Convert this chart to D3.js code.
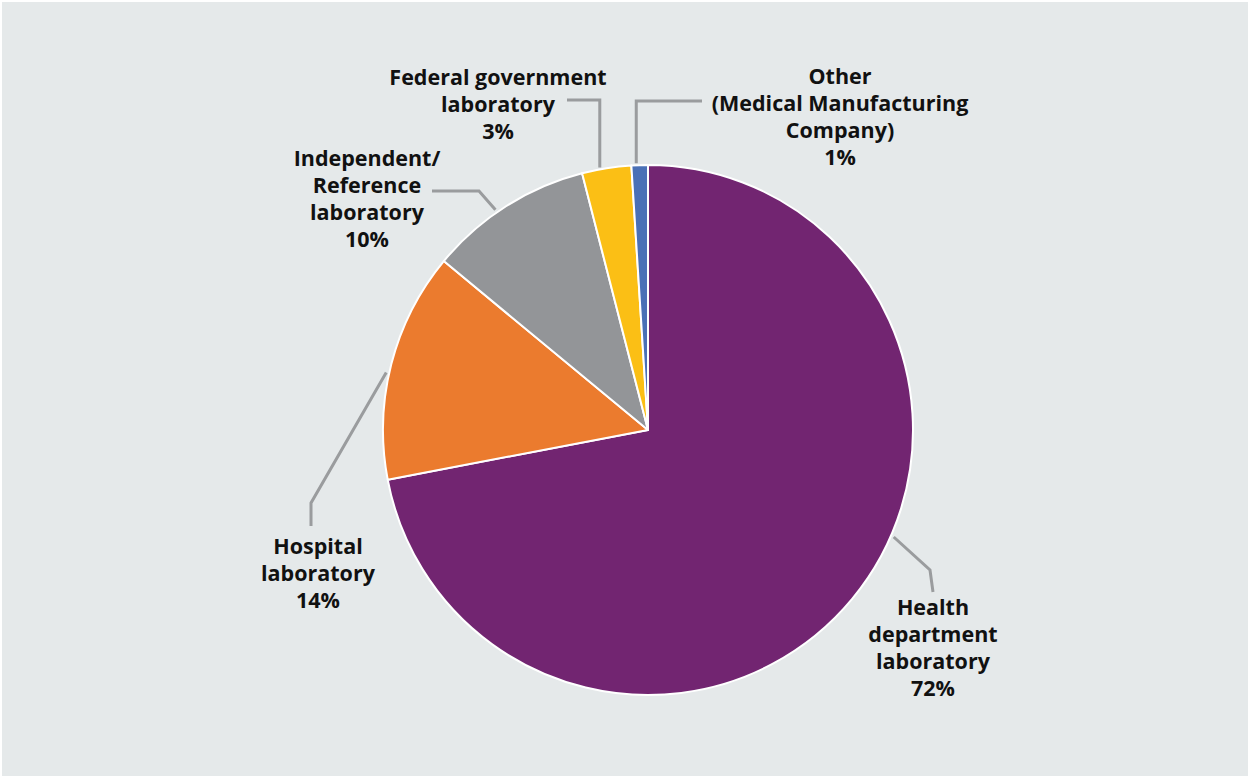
<!DOCTYPE html>
<html>
<head>
<meta charset="utf-8">
<script src="https://cdn.jsdelivr.net/npm/d3@7"></script>
<style>
  html, body { margin: 0; padding: 0; background: #ffffff; }
  svg { display: block; }
  .lbl { font-family: "Open Sans", "Noto Sans", sans-serif; font-weight: 700; font-size: 21.5px; fill: #111; }
</style>
</head>
<body>
<svg id="chart" width="1250" height="778"></svg>
<script>
// Share of tests by laboratory type
const categories = ["Health department laboratory", "Hospital laboratory", "Independent/Reference laboratory", "Federal government laboratory", "Other (Medical Manufacturing Company)"];
const values = [72, 14, 10, 3, 1];
const colors = ["#722571", "#eb7b2e", "#939598", "#fbbf15", "#4a70b6"];
const labelLines = [
  ["Health", "department", "laboratory", "72%"],
  ["Hospital", "laboratory", "14%"],
  ["Independent/", "Reference", "laboratory", "10%"],
  ["Federal government", "laboratory", "3%"],
  ["Other", "(Medical Manufacturing", "Company)", "1%"]
];

const W = 1250, H = 778;
const cx = 648, cy = 430, R = 265;

const svg = d3.select("#chart");
svg.append("rect").attr("x", 2).attr("y", 2).attr("width", W - 4).attr("height", H - 4).attr("fill", "#e5e9ea");

const pie = d3.pie().sort(null).value(d => d);
const arcs = pie(values);
const arc = d3.arc().innerRadius(0).outerRadius(R);

const g = svg.append("g").attr("transform", `translate(${cx},${cy})`);
g.selectAll("path.slice").data(arcs).join("path")
  .attr("class", "slice")
  .attr("d", arc)
  .attr("fill", (d, i) => colors[i])
  .attr("stroke", "#ffffff")
  .attr("stroke-width", 2)
  .attr("stroke-linejoin", "round");

// point on the rim at a given fraction of the slice's span
function rim(a, t, r) {
  const ang = a.startAngle + (a.endAngle - a.startAngle) * t;
  return [cx + r * Math.sin(ang), cy - r * Math.cos(ang)];
}

// leader line layout per slice: anchor fraction along slice, then elbow and end points
const leaders = [
  { t: 0.438, r: R + 3, pts: p => [p, [930, 570], [933, 592]] },
  { t: 0.46, r: R + 3, pts: p => [p, [311, 503], [311, 526]] },
  { t: 0.436, r: R + 3, pts: p => [p, [479, 191], [432, 191]] },
  { t: 0.37, r: R + 2, pts: p => [p, [p[0], 100], [567, 100]] },
  { t: 0.3, r: R + 2, pts: p => [p, [p[0], 101], [702, 101]] }
];

const line = d3.line();
arcs.forEach((a, i) => {
  const p = rim(a, leaders[i].t, leaders[i].r);
  svg.append("path")
    .attr("d", line(leaders[i].pts(p)))
    .attr("fill", "none")
    .attr("stroke", "#9a9c9e")
    .attr("stroke-width", 3);
});

// label blocks: centre x and first baseline
const labelPos = [
  [933, 615], [318, 554], [367, 166], [498, 85], [840, 84]
];
const lineH = 27;
labelLines.forEach((lines, i) => {
  const t = svg.append("text").attr("class", "lbl").attr("text-anchor", "middle");
  lines.forEach((s, k) => {
    t.append("tspan").attr("x", labelPos[i][0]).attr("y", labelPos[i][1] + k * lineH).text(s);
  });
});
</script>
</body>
</html>
